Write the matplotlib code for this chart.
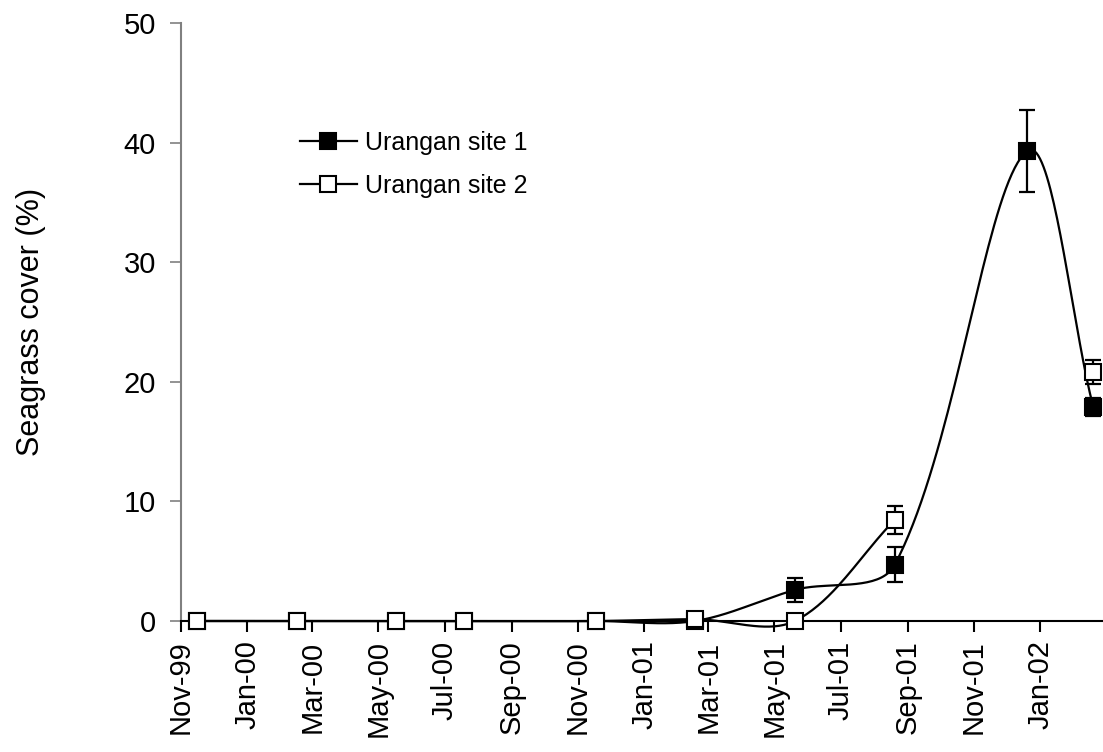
import numpy as np
import matplotlib
matplotlib.use("Agg")
import matplotlib.pyplot as plt
import matplotlib.dates as mdates
from datetime import datetime

plt.rcParams['font.family'] = ['Liberation Sans', 'DejaVu Sans']

# sampling dates
dates = ["1999-11-16", "2000-02-16", "2000-05-17", "2000-07-19", "2000-11-18",
         "2001-02-17", "2001-05-20", "2001-08-20", "2001-12-20", "2002-02-19"]
site1 = [0, 0, 0, 0, 0, 0.0, 2.6, 4.7, 39.3, 17.9]
site1_err = [0, 0, 0, 0, 0, 0, 1.0, 1.45, 3.4, 0.75]
site2 = [0, 0, 0, 0, 0, 0.15, 0, 8.45, np.nan, 20.8]
site2_err = [0, 0, 0, 0, 0, 0, 0, 1.2, 0, 1.0]

xd = mdates.date2num([datetime.strptime(d, "%Y-%m-%d") for d in dates])

# rough screen scale (px per day, px per % cover) so smoothing works like excel
SX, SY = 1.083, 11.96


def smooth(x, y, n=40):
    # bezier through points, arms scaled by chord length ("smoothed line")
    P = np.column_stack([np.asarray(x, float) * SX, np.asarray(y, float) * SY])
    P = np.vstack([P[0], P, P[-1]])
    out = []
    t = np.linspace(0, 1, n)[:, None]
    for i in range(1, len(P) - 2):
        p0, p3 = P[i], P[i + 1]
        c = np.linalg.norm(p3 - p0)
        cp = np.linalg.norm(p0 - P[i - 1])
        cn = np.linalg.norm(P[i + 2] - p3)
        s1 = 2 * c / (cp + c) if cp + c > 0 else 1
        s2 = 2 * c / (c + cn) if c + cn > 0 else 1
        p1 = p0 + (p3 - P[i - 1]) / 6.0 * s1
        p2 = p3 - (P[i + 2] - p0) / 6.0 * s2
        b = (1 - t) ** 3 * p0 + 3 * (1 - t) ** 2 * t * p1 + 3 * (1 - t) * t ** 2 * p2 + t ** 3 * p3
        out.append(b)
    b = np.vstack(out)
    return b[:, 0] / SX, b[:, 1] / SY


def runs(x, y):
    # split a series at missing values
    out, cx, cy = [], [], []
    for a, b in zip(x, y):
        if np.isnan(b):
            if cx:
                out.append((cx, cy))
            cx, cy = [], []
        else:
            cx.append(a)
            cy.append(b)
    if cx:
        out.append((cx, cy))
    return out


fig = plt.figure(figsize=(11.03, 7.52), dpi=100)
ax = fig.add_axes([0.1641, 0.1742, 0.8359, 0.7952])

lw = 1.6
for y, err, fc, lab, z in [(site1, site1_err, 'black', 'Urangan site 1', 3),
                           (site2, site2_err, 'white', 'Urangan site 2', 4)]:
    y = np.array(y, float)
    err = np.array(err, float)
    for cx, cy in runs(xd, y):
        if len(cx) > 1:
            sx, sy = smooth(cx, cy)
            ax.plot(sx, sy, color='black', lw=lw, zorder=z, clip_on=False)
    m = err > 0
    ax.errorbar(xd[m], y[m], yerr=err[m], fmt='none', ecolor='black',
                elinewidth=lw, capsize=5.5, capthick=lw, zorder=z)
    ax.plot(xd, y, ls='none', marker='s', ms=11, mfc=fc, mec='black',
            mew=1.5, zorder=z + 0.5, clip_on=False)
    ax.plot([], [], color='black', lw=lw, marker='s', ms=11, mfc=fc,
            mec='black', mew=1.5, label=lab)

ax.set_xlim(mdates.date2num(datetime(1999, 11, 1)), mdates.date2num(datetime(2002, 2, 28)))
ax.set_ylim(0, 50)
ax.set_yticks(range(0, 51, 10))
ax.xaxis.set_major_locator(mdates.MonthLocator(bymonth=[1, 3, 5, 7, 9, 11]))
ax.xaxis.set_major_formatter(mdates.DateFormatter('%b-%y'))
plt.setp(ax.get_xticklabels(), rotation=90)

ax.spines['top'].set_visible(False)
ax.spines['right'].set_visible(False)
ax.spines['left'].set_color('#808080')
ax.spines['left'].set_linewidth(1.5)
ax.spines['bottom'].set_linewidth(1.5)
ax.tick_params(axis='x', direction='out', length=8, width=1.5, labelsize=21, pad=6)
ax.tick_params(axis='y', direction='out', length=8, width=1.2, color='#808080',
               labelsize=21, pad=10)
ax.set_ylabel('Seagrass cover (%)', fontsize=22, labelpad=56)

ax.legend(loc='upper left', bbox_to_anchor=(0.115, 0.84), frameon=False,
          fontsize=18, handlelength=2.3, handletextpad=0.3, labelspacing=0.75,
          borderpad=0)

fig.savefig('out.png', dpi=100)
